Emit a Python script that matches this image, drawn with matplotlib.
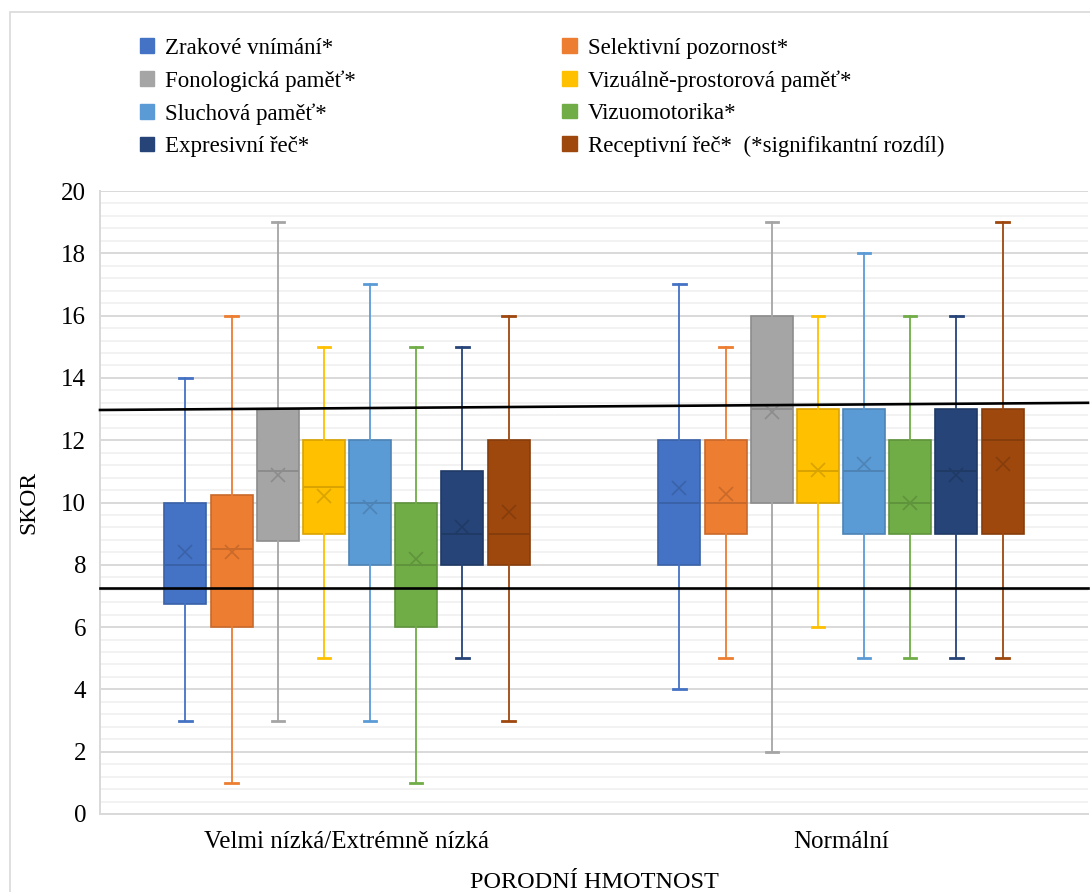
import numpy as np
import matplotlib.pyplot as plt
from matplotlib.patches import Patch, Rectangle

plt.rcParams['font.family'] = ['Liberation Serif', 'DejaVu Serif']

groups = ['Velmi nízká/Extrémně nízká', 'Normální']
tests = ['Zrakové vnímání*', 'Selektivní pozornost*', 'Fonologická paměť*',
         'Vizuálně-prostorová paměť*', 'Sluchová paměť*', 'Vizuomotorika*',
         'Expresivní řeč*', 'Receptivní řeč*  (*signifikantní rozdíl)']
colors = ['#4472C4', '#ED7D31', '#A5A5A5', '#FFC000',
          '#5B9BD5', '#70AD47', '#264478', '#9E480E']
edge_colors = ['#3A62A8', '#C9692A', '#8C8C8C', '#D9A300',
               '#4D84B5', '#5F933C', '#203A66', '#863D0C']

# five-number summaries + mean, per test, for each birth-weight group
low_min = [3, 1, 3, 5, 3, 1, 5, 3]
low_q1 = [6.75, 6, 8.75, 9, 8, 6, 8, 8]
low_med = [8, 8.5, 11, 10.5, 10, 8, 9, 9]
low_q3 = [10, 10.25, 13, 12, 12, 10, 11, 12]
low_max = [14, 16, 19, 15, 17, 15, 15, 16]
low_mean = [8.42, 8.42, 10.88, 10.22, 9.87, 8.18, 9.2, 9.7]

norm_min = [4, 5, 2, 6, 5, 5, 5, 5]
norm_q1 = [8, 9, 10, 10, 9, 9, 9, 9]
norm_med = [10, 10, 13, 11, 11, 10, 11, 12]
norm_q3 = [12, 12, 16, 13, 13, 12, 13, 13]
norm_max = [17, 15, 19, 16, 18, 16, 16, 19]
norm_mean = [10.47, 10.27, 12.92, 11.05, 11.24, 10.0, 10.88, 11.24]

# reference lines
low_line = [7.26, 7.26]
high_line = [12.97, 13.2]

fig = plt.figure(figsize=(10.9, 8.92), dpi=100)
fig.patches.append(Rectangle((10 / 1090, -0.1), 1.2, 1.1 - 12 / 892,
                             transform=fig.transFigure, fill=False,
                             edgecolor='#d9d9d9', lw=1.2))
ax = fig.add_axes([100 / 1090, 78 / 892, 988 / 1090, 623 / 892])

step = 0.0935
width = 0.085
summaries = [(low_min, low_q1, low_med, low_q3, low_max, low_mean),
             (norm_min, norm_q1, norm_med, norm_q3, norm_max, norm_mean)]

for g, (mn, q1, med, q3, mx, mean) in enumerate(summaries):
    for i in range(len(tests)):
        pos = g + 1 + (i - 3.5) * step
        stats = [dict(whislo=mn[i], q1=q1[i], med=med[i], q3=q3[i],
                      whishi=mx[i], mean=mean[i], fliers=[])]
        ax.bxp(stats, positions=[pos], widths=width, capwidths=0.025,
               patch_artist=True, showmeans=True, manage_ticks=False,
               boxprops=dict(facecolor=colors[i], edgecolor=edge_colors[i], lw=1.2),
               medianprops=dict(color=edge_colors[i], lw=1.4),
               whiskerprops=dict(color=colors[i], lw=1.3),
               capprops=dict(color=colors[i], lw=2),
               meanprops=dict(marker='x', markersize=10, markeredgewidth=1.2,
                              markeredgecolor=edge_colors[i]),
               zorder=3)

ax.plot([0.5, 2.5], low_line, color='black', lw=1.9, zorder=4, clip_on=False)
ax.plot([0.5, 2.5], high_line, color='black', lw=1.9, zorder=4, clip_on=False)

ax.set_xlim(0.5, 2.5)
ax.set_ylim(0, 20)
ax.set_yticks(np.arange(0, 21, 2))
ax.set_yticks(np.arange(0, 20.01, 0.4), minor=True)
ax.set_xticks([1, 2])
ax.set_xticklabels(groups, fontsize=18)
ax.tick_params(axis='y', labelsize=18, length=0, pad=10)
ax.tick_params(axis='y', which='minor', length=0)
ax.tick_params(axis='x', length=0, pad=12)
ax.grid(axis='y', which='major', color='#d9d9d9', lw=1.4, zorder=0)
ax.grid(axis='y', which='minor', color='#efefef', lw=1.1, zorder=0)
ax.set_axisbelow(True)
for side in ['top', 'right']:
    ax.spines[side].set_visible(False)
ax.spines['left'].set_color('#d9d9d9')
ax.spines['bottom'].set_color('#d9d9d9')
ax.spines['left'].set_linewidth(1.4)
ax.spines['bottom'].set_linewidth(1.4)

ax.set_ylabel('SKOR', fontsize=17, labelpad=16)
ax.set_xlabel('PORODNÍ HMOTNOST', fontsize=17.5, labelpad=14)

handles = [Patch(facecolor=c, edgecolor=c) for c in colors]
order = [0, 2, 4, 6, 1, 3, 5, 7]
fig.legend([handles[k] for k in order], [tests[k] for k in order],
           ncol=2, loc='upper left', bbox_to_anchor=(119 / 1090, 1 - 17 / 892),
           frameon=False, fontsize=16.5, handlelength=0.62, handleheight=0.62,
           handletextpad=0.5, columnspacing=9.0, labelspacing=0.5)

fig.savefig('out.png', dpi=100)
